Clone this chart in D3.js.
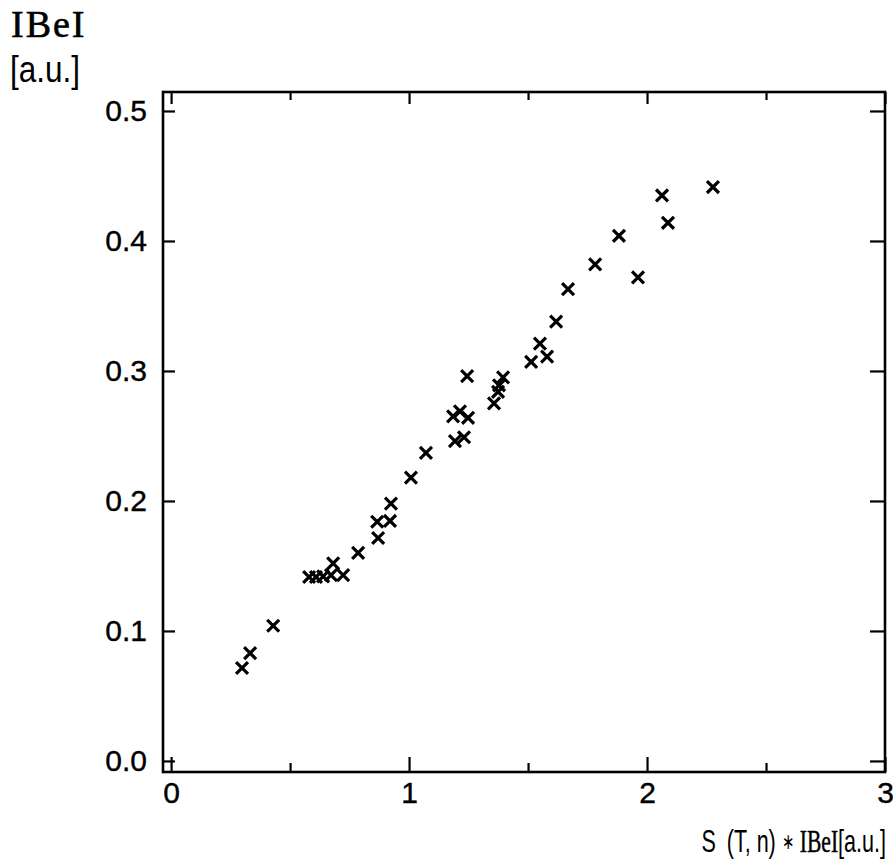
<!DOCTYPE html>
<html>
<head>
<meta charset="utf-8">
<script src="https://cdn.jsdelivr.net/npm/d3@7"></script>
<style>
  html, body { margin: 0; padding: 0; background: #fff; }
  svg { display: block; }
  .sans { font-family: "Liberation Sans", Arial, Helvetica, sans-serif; }
  .serif { font-family: "Liberation Serif", "Times New Roman", serif; }
</style>
</head>
<body>
<svg id="chart" width="893" height="859"></svg>
<script>
// Measured pairs: S(T,n)*|Be| (x) against |Be| (y), arbitrary units
const sValues = [0.298, 0.332, 0.429, 0.580, 0.609, 0.639, 0.672, 0.681, 0.723, 0.786,
                 0.870, 0.866, 0.920, 0.924, 1.008, 1.071, 1.193, 1.231, 1.185, 1.214,
                 1.248, 1.244, 1.357, 1.374, 1.378, 1.395, 1.513, 1.580, 1.550, 1.618,
                 1.668, 1.782, 1.962, 1.882, 2.063, 2.088, 2.277];
const beValues = [0.0715, 0.083, 0.104, 0.1415, 0.1415, 0.142, 0.143, 0.152, 0.143, 0.160,
                  0.1715, 0.184, 0.1846, 0.198, 0.218, 0.237, 0.246, 0.249, 0.265, 0.269,
                  0.264, 0.296, 0.275, 0.284, 0.289, 0.295, 0.307, 0.311, 0.321, 0.338,
                  0.363, 0.382, 0.372, 0.404, 0.435, 0.414, 0.4415];

const xTickValues = [0, 1, 2, 3];
const xTickLabels = ["0", "1", "2", "3"];
const xHalfTicks = [0.5, 1.5, 2.5];
const yTickValues = [0.0, 0.1, 0.2, 0.3, 0.4, 0.5];
const yTickLabels = ["0.0", "0.1", "0.2", "0.3", "0.4", "0.5"];

const svg = d3.select("#chart");
const plotLeft = 163, plotRight = 885, plotTop = 92, plotBottom = 772;

const x = d3.scaleLinear().domain([-0.034, 3.0]).range([plotLeft, plotRight]);
const y = d3.scaleLinear().domain([-0.0085, 0.5146]).range([plotBottom, plotTop]);

// inward ticks on all four sides
function styleAxis(g) {
  g.select(".domain").remove();
  g.selectAll(".tick line").attr("stroke", "#000").attr("stroke-width", 2.2);
  g.selectAll("text").attr("fill", "#000");
}
function styleLabels(g) {
  g.selectAll("text").attr("class", "sans").attr("font-size", 30)
    .attr("stroke", "#000").attr("stroke-width", 0.4);
}

svg.append("g")
  .attr("transform", `translate(${plotLeft},0)`)
  .call(d3.axisLeft(y).tickValues(yTickValues)
        .tickFormat((d, i) => yTickLabels[i])
        .tickSizeInner(-12).tickSizeOuter(0).tickPadding(16))
  .call(styleAxis)
  .call(styleLabels);

svg.append("g")
  .attr("transform", `translate(${plotRight},0)`)
  .call(d3.axisRight(y).tickValues(yTickValues).tickFormat("")
        .tickSizeInner(-15).tickSizeOuter(0))
  .call(styleAxis);

svg.append("g")
  .attr("transform", `translate(0,${plotBottom})`)
  .call(d3.axisBottom(x).tickValues(xTickValues)
        .tickFormat((d, i) => xTickLabels[i])
        .tickSizeInner(-15).tickSizeOuter(0).tickPadding(10))
  .call(styleAxis)
  .call(styleLabels);

svg.append("g")
  .attr("transform", `translate(0,${plotBottom})`)
  .call(d3.axisBottom(x).tickValues(xHalfTicks).tickFormat("")
        .tickSizeInner(-9).tickSizeOuter(0))
  .call(styleAxis);

svg.append("g")
  .attr("transform", `translate(0,${plotTop})`)
  .call(d3.axisTop(x).tickValues(xTickValues).tickFormat("")
        .tickSizeInner(-12).tickSizeOuter(0))
  .call(styleAxis);

svg.append("g")
  .attr("transform", `translate(0,${plotTop})`)
  .call(d3.axisTop(x).tickValues(xHalfTicks).tickFormat("")
        .tickSizeInner(-8).tickSizeOuter(0))
  .call(styleAxis);

// frame
svg.append("rect")
  .attr("x", plotLeft).attr("y", plotTop)
  .attr("width", plotRight - plotLeft).attr("height", plotBottom - plotTop)
  .attr("fill", "none").attr("stroke", "#000").attr("stroke-width", 2.6);

// data markers
const cross = d3.symbol().type(d3.symbolX).size(95);
svg.append("g")
  .selectAll("path")
  .data(d3.range(sValues.length))
  .join("path")
  .attr("transform", i => `translate(${x(sValues[i])},${y(beValues[i])})`)
  .attr("d", cross)
  .attr("fill", "none")
  .attr("stroke", "#000")
  .attr("stroke-width", 3.2);

// y-axis title
svg.append("text").attr("class", "serif")
  .attr("x", 11).attr("y", 37)
  .attr("font-size", 38).attr("letter-spacing", 2)
  .attr("stroke", "#000").attr("stroke-width", 0.6)
  .text("IBeI");
svg.append("text").attr("class", "sans")
  .attr("x", 10).attr("y", 82)
  .attr("font-size", 36).attr("textLength", 70).attr("lengthAdjust", "spacingAndGlyphs")
  .text("[a.u.]");

// x-axis title, condensed to the width of the lower-right corner
const xTitleRight = 886, xTitleBase = 852, xTitleWidth = 184;
const xTitleG = svg.append("g");
const xTitle = xTitleG.append("text")
  .attr("font-size", 32).attr("text-anchor", "end").attr("fill", "#000");
xTitle.append("tspan").attr("class", "sans").text("S\u2002(T, n) ");
xTitle.append("tspan").attr("class", "sans").attr("font-size", 22).attr("dy", -3).text("\u2217");
xTitle.append("tspan").attr("class", "serif").attr("dy", 3)
  .attr("stroke", "#000").attr("stroke-width", 0.5).text(" IBeI");
xTitle.append("tspan").attr("class", "sans").text("[a.u.]");
const naturalWidth = xTitle.node().getComputedTextLength();
xTitleG.attr("transform",
  `translate(${xTitleRight},${xTitleBase}) scale(${xTitleWidth / naturalWidth},1)`);
</script>
</body>
</html>
